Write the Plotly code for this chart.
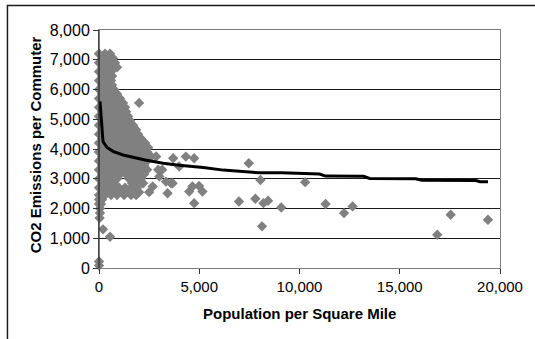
import plotly.graph_objects as go

# Dense cloud of low-density places
cloud_row_co2 = [7200, 7050, 6900, 6750, 6600, 6450, 6300, 6150, 6000, 5850,
                 5700, 5550, 5400, 5250, 5100, 4950, 4800, 4650, 4500, 4350,
                 4200, 4050, 3900, 3750, 3600, 3450, 3300, 3150, 3000, 2850,
                 2700, 2550, 2450, 2300, 2150]
cloud_row_pop = [
    [0, 300, 550],
    [150, 450, 700],
    [0, 300, 600, 800],
    [150, 450, 750, 900],
    [0, 300, 600],
    [150, 450, 650],
    [0, 300, 600],
    [150, 450, 650],
    [0, 300, 600, 750],
    [150, 450, 750, 900],
    [0, 300, 600, 900, 1050],
    [150, 450, 750, 1050, 1200, 2000],
    [0, 300, 600, 900, 1200, 1300],
    [150, 450, 750, 1050, 1350],
    [0, 300, 600, 900, 1200, 1450],
    [150, 450, 750, 1050, 1350, 1550],
    [0, 300, 600, 900, 1200, 1500, 1700],
    [150, 450, 750, 1050, 1350, 1650, 1850],
    [0, 300, 600, 900, 1200, 1500, 1800, 1950],
    [150, 450, 750, 1050, 1350, 1650, 1950, 2100],
    [0, 300, 600, 900, 1200, 1500, 1800, 2100, 2300],
    [150, 450, 750, 1050, 1350, 1650, 1950, 2250, 2450],
    [0, 300, 600, 900, 1200, 1500, 1800, 2100, 2400],
    [150, 450, 750, 1050, 1350, 1650, 1950, 2250, 2600, 2850],
    [0, 300, 600, 900, 1200, 1500, 1800, 2100, 2400],
    [150, 450, 750, 1050, 1350, 1650, 1950, 2250],
    [0, 300, 600, 900, 1200, 1500, 1800, 2100, 2400, 2950, 3150],
    [150, 450, 750, 1050, 1350, 1650, 1950, 2250],
    [0, 300, 600, 900, 1500, 1800, 2100],
    [150, 450, 750, 1650, 1950, 2200],
    [0, 300, 600, 1000, 1300, 1600, 1900],
    [150, 450, 800, 1150, 1450, 1750, 2000, 2500],
    [0, 300, 600, 900, 1250, 1600, 1850],
    [0, 150],
    [0, 100],
]

# Scattered individual places
pop_density = [50, 50, 30, 200, 550, 0, 0,
               3700, 4000, 4330, 4745, 3340, 3590, 3420, 4660, 4500, 4990, 5160,
               4745, 3010, 3670, 2680,
               6980, 7470, 8050, 7800, 8200, 8430, 9090, 8130,
               10280, 11300, 12220, 12650, 16870, 17540, 19400]
co2_per_commuter = [2000, 1850, 1680, 1300, 1050, 220, 80,
                    3690, 3410, 3745, 3690, 2905, 2850, 2515, 2740, 2570, 2760, 2570,
                    2180, 3075, 2850, 2740,
                    2235, 3520, 2960, 2330, 2180, 2260, 2035, 1400,
                    2885, 2150, 1845, 2070, 1120, 1790, 1620]

# Trend line
trend_x = [50, 120, 200, 400, 700, 1200, 2300, 3200, 4000, 5200, 6200, 7000,
           8000, 9100, 10000, 11000, 11300, 13200, 13500, 15800, 16100, 18800,
           19000, 19400]
trend_y = [5600, 4800, 4250, 4050, 3920, 3800, 3630, 3520, 3450, 3380, 3290,
           3250, 3200, 3200, 3180, 3160, 3090, 3080, 3010, 3000, 2950, 2940,
           2900, 2900]

x_ticks = [0, 5000, 10000, 15000, 20000]
y_ticks = [0, 1000, 2000, 3000, 4000, 5000, 6000, 7000, 8000]

all_x, all_y = [], []
for co2, pops in zip(cloud_row_co2, cloud_row_pop):
    for p in pops:
        all_x.append(p)
        all_y.append(co2)
all_x += pop_density
all_y += co2_per_commuter

W, H = 535, 339
ML, MR, MT, MB = 99, 33, 30, 71
PW, PH = W - ML - MR, H - MT - MB

def px_x(p):
    return (p - ML) / PW

def px_y(p):
    return 1 - (p - MT) / PH

FONT = "Liberation Sans, Arial, sans-serif"

fig = go.Figure()
fig.add_trace(go.Scatter(
    x=all_x, y=all_y, mode="markers",
    marker=dict(symbol="diamond", size=8, color="#808080", line=dict(width=0)),
    cliponaxis=False, showlegend=False, hoverinfo="skip",
))
fig.add_trace(go.Scatter(
    x=trend_x, y=trend_y, mode="lines",
    line=dict(color="black", width=3),
    cliponaxis=False, showlegend=False, hoverinfo="skip",
))

fig.update_layout(
    width=W, height=H,
    margin=dict(l=ML, r=MR, t=MT, b=MB, pad=0),
    paper_bgcolor="white", plot_bgcolor="white",
    font=dict(family=FONT, size=15, color="black"),
    xaxis=dict(
        range=[0, 20000], tickvals=x_ticks, tickformat=",d",
        showgrid=False, zeroline=False,
        showline=True, linecolor="#808080", linewidth=1, mirror=True,
        ticks="outside", ticklen=5, tickcolor="#333", tickwidth=1,
        tickfont=dict(size=15),
    ),
    yaxis=dict(
        range=[0, 8000], tickvals=y_ticks, tickformat=",d",
        showgrid=True, gridcolor="#1a1a1a", gridwidth=1, zeroline=False,
        showline=True, linecolor="#808080", linewidth=1, mirror=True,
        ticks="outside", ticklen=5, tickcolor="#333", tickwidth=1,
        tickfont=dict(size=16),
    ),
    shapes=[
        dict(type="rect", xref="paper", yref="paper",
             x0=px_x(7), x1=px_x(W + 20), y0=px_y(H + 20), y1=px_y(5.5),
             line=dict(color="#1a1a1a", width=1.5), fillcolor="rgba(0,0,0,0)",
             layer="below"),
        dict(type="line", xref="paper", yref="paper",
             x0=0, x1=0, y0=0, y1=1, line=dict(color="#222", width=1.2)),
    ],
    annotations=[
        dict(text="<b>Population per Square Mile</b>", xref="paper", yref="paper",
             x=0.5, y=px_y(313), xanchor="center", yanchor="middle",
             showarrow=False, font=dict(size=15)),
        dict(text="<b>CO2 Emissions per Commuter</b>", xref="paper", yref="paper",
             x=px_x(35), y=px_y(145), xanchor="center", yanchor="middle",
             textangle=-90, showarrow=False, font=dict(size=15)),
    ],
)

fig.write_html("out.html",
               config={"displayModeBar": False},
               post_script="document.body.style.margin='0';document.body.style.padding='0';")
